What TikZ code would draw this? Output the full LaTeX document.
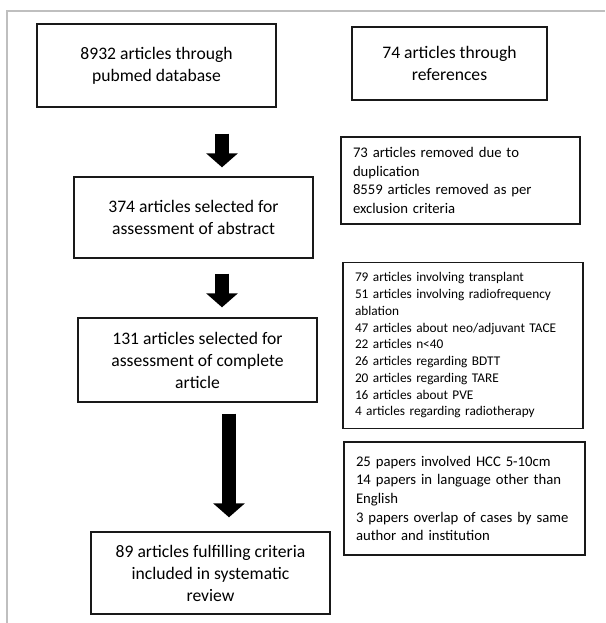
\documentclass[tikz,border=0pt]{standalone}
\usepackage{fontspec}
\setmainfont{Carlito}
\usetikzlibrary{arrows.meta}

\begin{document}
\begin{tikzpicture}[x=1pt,y=-1pt]
\tikzset{stage/.style={rectangle,draw=black!90,line width=1.4pt,align=center,inner sep=0pt,font=\fontsize{17.6pt}{22pt}\selectfont},
  note/.style={rectangle,draw=black!90,line width=1.4pt,align=left,inner xsep=12pt,inner ysep=0pt,font=\fontsize{14.7pt}{18.6pt}\selectfont},
  flow/.style={line width=14.5pt,-{Triangle[width=31pt,length=14pt]}}}
% page frame
\useasboundingbox (0,0) rectangle (605,623);
\draw[black!25,line width=1.2pt] (7,623) -- (7,11) -- (605,11);
% main stream of articles
\node[stage,minimum width=239pt,minimum height=83pt] (pubmed) at (156.5,65.5) {8932 articles through\\pubmed database};
\node[stage,minimum width=195pt,minimum height=73pt] (refs) at (449.5,63.5) {74 articles through\\references};
\node[stage,minimum width=239pt,minimum height=81pt] (abstract) at (193.5,217.5) {374 articles selected for\\assessment of abstract};
\node[stage,minimum width=239pt,minimum height=84pt] (complete) at (197.5,360) {131 articles selected for\\assessment of complete\\article};
\node[stage,minimum width=239pt,minimum height=82pt] (included) at (210.5,573) {89 articles fulfilling criteria\\included in systematic\\review};
% exclusions at each step
\node[note,text width=215pt,minimum width=239pt,minimum height=87pt] (removed) at (460.5,180.5) {73 articles removed due to\\duplication\\8559 articles removed as per\\exclusion criteria};
\node[note,text width=216pt,minimum width=240pt,minimum height=166pt,font=\fontsize{13.3pt}{16.75pt}\selectfont] (excl) at (463,345.5) {79 articles involving transplant\\51 articles involving radiofrequency\\ablation\\47 articles about neo/adjuvant TACE\\22 articles n<40\\26 articles regarding BDTT\\20 articles regarding TARE\\16 articles about PVE\\4 articles regarding radiotherapy};
\node[note,text width=217pt,minimum width=241pt,minimum height=113pt] (other) at (464.5,498.5) {25 papers involved HCC 5-10cm\\14 papers in language other than\\English\\3 papers overlap of cases by same\\author and institution};
% block arrows between the stages
\draw[flow] ([shift={(65.5,26)}]pubmed.south) -- ([shift={(28.5,-9)}]abstract.north);
\draw[flow] ([shift={(28.5,15)}]abstract.south) -- ([shift={(24.5,-10)}]complete.north);
\draw[flow] ([shift={(31.5,11)}]complete.south) -- ([shift={(18.5,-14)}]included.north);
\end{tikzpicture}
\end{document}
